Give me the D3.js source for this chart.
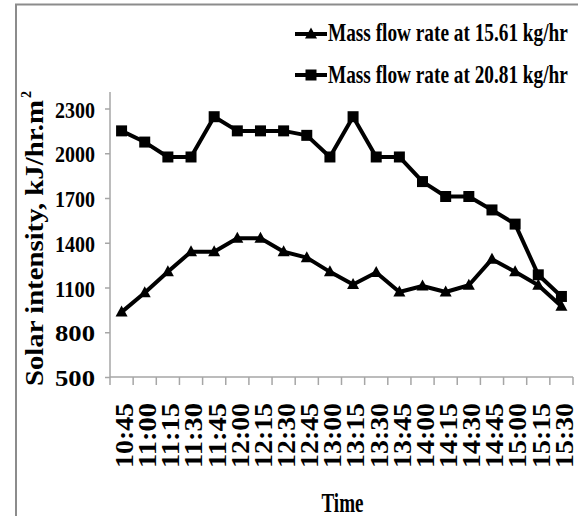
<!DOCTYPE html>
<html><head><meta charset="utf-8">
<script src="https://cdn.jsdelivr.net/npm/d3@7"></script>
<style>
body{margin:0;background:#fff}
svg{display:block}
text{font-family:"Liberation Serif","Times New Roman",serif;font-weight:bold;fill:#000}
</style>
</head><body>
<svg id="c" width="578" height="516"></svg>
<script>
const times = ["10:45","11:00","11:15","11:30","11:45","12:00","12:15","12:30","12:45","13:00",
               "13:15","13:30","13:45","14:00","14:15","14:30","14:45","15:00","15:15","15:30"];
const flow1561 = [935,1065,1205,1340,1340,1430,1430,1340,1300,1205,
                  1120,1200,1070,1110,1070,1115,1290,1205,1115,975];
const flow2081 = [2150,2075,1975,1975,2245,2150,2150,2150,2120,1975,
                  2245,1975,1975,1810,1710,1710,1620,1525,1185,1040];
const yTicks = [500,800,1100,1400,1700,2000,2300];
const seriesNames = ["Mass flow rate at 15.61 kg/hr","Mass flow rate at 20.81 kg/hr"];
const yTitle = "Solar intensity,  kJ/hr.m";
const xTitle = "Time";

const svg = d3.select("#c");
const axisColor = "#a6a6a6";

// text helper: places text in a group (translate + rotate), scales it along its direction to a target length
function label(parent, tx, ty, rot, str, size, targetLen, anchor, dy){
  const g = parent.append("g").attr("transform","translate("+tx+","+ty+")"+(rot?" rotate("+rot+")":""));
  const t = g.append("text").attr("text-anchor",anchor||"start").attr("font-size",size).text(str);
  if (dy) t.attr("dy",dy);
  if (targetLen){
    const L = t.node().getComputedTextLength();
    if (L>0) t.attr("transform","scale("+(targetLen/L)+",1)");
  }
  return t;
}

// outer border
svg.append("rect").attr("x",16).attr("y",4.5).attr("width",600).attr("height",560)
  .attr("fill","none").attr("stroke","#8c8c8c").attr("stroke-width",2);

const x = d3.scaleBand().domain(times).range([110,573]).padding(0);
const y = d3.scaleLinear().domain([500,2300]).range([377,108.5]);

// y axis
const yAxis = d3.axisLeft(y).tickValues(yTicks).tickSize(5).tickSizeOuter(0).tickFormat("");
const gy = svg.append("g").attr("transform","translate(110,0)").call(yAxis);
gy.select(".domain").attr("stroke",axisColor).attr("stroke-width",1.5)
  .attr("d","M0,"+y(2410)+"V"+y(500));
gy.selectAll(".tick line").attr("stroke",axisColor).attr("stroke-width",1.5);
const yl = svg.append("g");
yTicks.forEach(v=>label(yl, 95, y(v)+9, 0, d3.format("d")(v), 23, 40, "end"));

// x axis
const gx = svg.append("g").attr("transform","translate(0,377)");
gx.append("line").attr("x1",110).attr("x2",573).attr("y1",0).attr("y2",0)
  .attr("stroke",axisColor).attr("stroke-width",1.5);
const edges = times.map(t=>x(t)).concat([x.range()[1]]);
gx.selectAll("line.tk").data(edges).enter().append("line").attr("class","tk")
  .attr("x1",d=>d).attr("x2",d=>d).attr("y1",0).attr("y2",8)
  .attr("stroke",axisColor).attr("stroke-width",1.5);
const xl = svg.append("g");
times.forEach(t=>label(xl, x(t)+x.bandwidth()/2+3, 403, -90, t, 24.5, 65, "end", "0.34em"));

// titles
label(svg, 34, 386, -90, yTitle, 26, 286, "start", "0.34em");
label(svg, 30.5, 98, -90, "2", 14, 0, "start");
label(svg, 342.5, 511.5, 0, xTitle, 28, 42, "middle");

// series
const cx = d=>x(d)+x.bandwidth()/2;
const line = d3.line().x((d,i)=>cx(times[i])).y(d=>y(d));
const triangle = "M0,-6.5L6,4.5L-6,4.5Z";
const square = "M-5.5,-5.5H5.5V5.5H-5.5Z";

function drawSeries(vals, shape){
  svg.append("path").datum(vals).attr("d",line).attr("fill","none")
    .attr("stroke","#000").attr("stroke-width",4).attr("stroke-linejoin","round");
  svg.append("g").selectAll("path").data(vals).enter().append("path")
    .attr("transform",(d,i)=>"translate("+cx(times[i])+","+y(d)+")")
    .attr("d",shape).attr("fill","#000");
}
drawSeries(flow2081, square);
drawSeries(flow1561, triangle);

// legend
const legY = [34,75];
const legBase = [40.7,83.3];
const legShapes = [triangle, square];
seriesNames.forEach((n,i)=>{
  svg.append("line").attr("x1",295).attr("x2",327).attr("y1",legY[i]).attr("y2",legY[i])
    .attr("stroke","#000").attr("stroke-width",4);
  svg.append("path").attr("transform","translate(311,"+legY[i]+")").attr("d",legShapes[i]).attr("fill","#000");
  label(svg, 328, legBase[i], 0, n, 25, 240, "start");
});
</script>
</body></html>
